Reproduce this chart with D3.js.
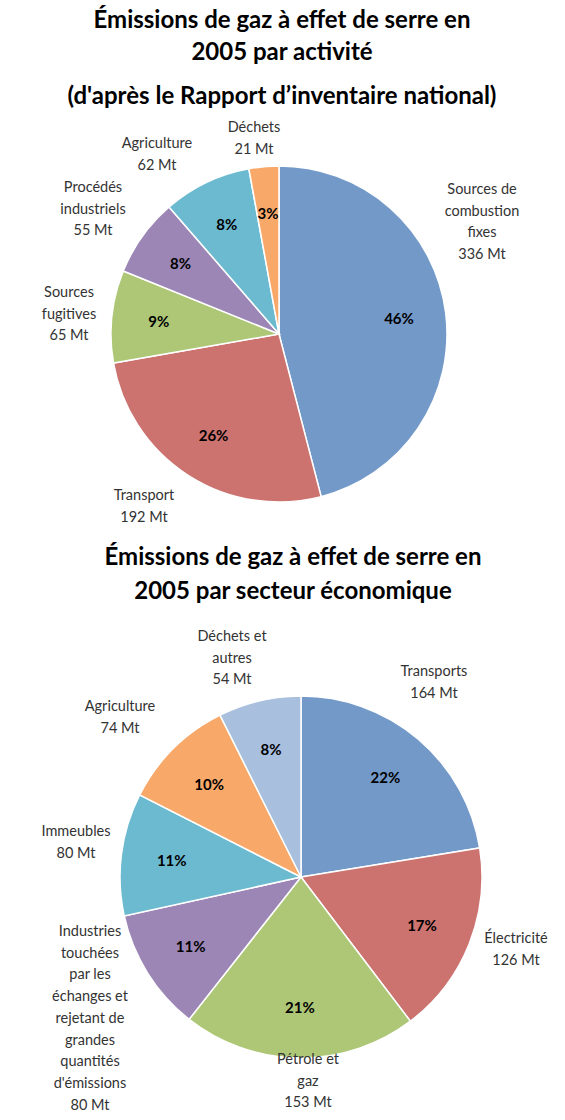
<!DOCTYPE html>
<html><head><meta charset="utf-8">
<script src="https://cdn.jsdelivr.net/npm/d3@7"></script>
<style>body{margin:0;background:#fff}text{font-family:Lato,"Open Sans",sans-serif}</style>
</head><body><svg id="c" width="565" height="1120"></svg>
<script>
const cat1 = ["Sources de combustion fixes","Transport","Sources fugitives","Procédés industriels","Agriculture","Déchets"];
const val1 = [336,192,65,55,62,21];
const pct1 = ["46%","26%","9%","8%","8%","3%"];
const cat2 = ["Transports","Électricité","Pétrole et gaz","Industries touchées par les échanges et rejetant de grandes quantités d'émissions","Immeubles","Agriculture","Déchets et autres"];
const val2 = [164,126,153,80,80,74,54];
const pct2 = ["22%","17%","21%","11%","11%","10%","8%"];

const col1 = ["#7399C9","#CC7370","#ADC776","#9B86B5","#6CBAD0","#F8A96A"];
const col2 = ["#7399C9","#CC7370","#ADC776","#9B86B5","#6CBAD0","#F8A96A","#A8BFDE"];
// label text lines and positions (layout)
const lab1 = [
 {lines:["Sources de","combustion","fixes","336 Mt"],x:482,y:189},
 {lines:["Transport","192 Mt"],x:144,y:495},
 {lines:["Sources","fugitives","65 Mt"],x:69,y:292},
 {lines:["Procédés","industriels","55 Mt"],x:93,y:187},
 {lines:["Agriculture","62 Mt"],x:157,y:143},
 {lines:["Déchets","21 Mt"],x:254,y:127}];
const lab2 = [
 {lines:["Transports","164 Mt"],x:434,y:671},
 {lines:["Électricité","126 Mt"],x:516,y:938},
 {lines:["Pétrole et","gaz","153 Mt"],x:308,y:1059},
 {lines:["Industries","touchées","par les","échanges et","rejetant de","grandes","quantités","d'émissions","80 Mt"],x:90,y:931},
 {lines:["Immeubles","80 Mt"],x:76,y:831},
 {lines:["Agriculture","74 Mt"],x:120,y:706},
 {lines:["Déchets et","autres","54 Mt"],x:232,y:636}];

const svg = d3.select("#c");
function title(lines, ys, x){
  lines.forEach((t,i)=>svg.append("text").attr("x",x).attr("y",ys[i]).attr("text-anchor","middle")
    .attr("font-size",24).attr("font-weight","bold").text(t));
}
title(["Émissions de gaz à effet de serre en","2005 par activité","(d'après le Rapport d’inventaire national)"],[28,60,104],282);
title(["Émissions de gaz à effet de serre en","2005 par secteur économique"],[565,599],293);

function pie(vals, cols, pcts, labs, cx, cy, r){
  const arcs = d3.pie().sort(null)(vals);
  const g = svg.append("g").attr("transform",`translate(${cx},${cy})`);
  const arc = d3.arc().innerRadius(0).outerRadius(r);
  const la = d3.arc().innerRadius(r*0.72).outerRadius(r*0.72);
  g.selectAll("path").data(arcs).join("path").attr("d",arc).attr("fill",(d,i)=>cols[i])
    .attr("stroke","#fff").attr("stroke-width",1.5);
  g.selectAll("text.p").data(arcs).join("text").attr("class","p")
    .attr("transform",d=>`translate(${la.centroid(d)})`).attr("text-anchor","middle").attr("dy","0.35em")
    .attr("font-size",15).attr("font-weight","bold").text((d,i)=>pcts[i]);
  labs.forEach(l=>{
    l.lines.forEach((t,i)=>svg.append("text").attr("x",l.x).attr("y",l.y+i*21.7).attr("dy","0.35em")
      .attr("text-anchor","middle").attr("font-size",14.5).attr("fill","#333").text(t));
  });
}
pie(val1,col1,pct1,lab1,279,334,168);
pie(val2,col2,pct2,lab2,301,877,181);
</script></body></html>
